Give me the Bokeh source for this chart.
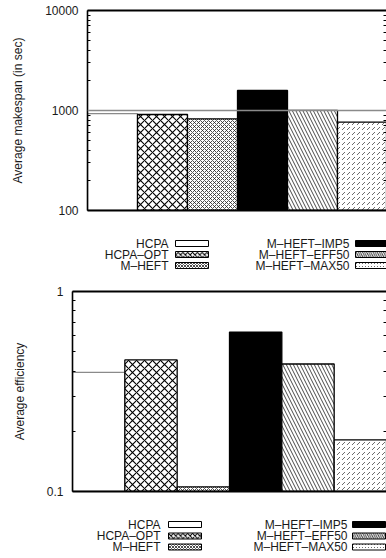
from bokeh.plotting import figure
from bokeh.models import (Range1d, LogAxis, LinearAxis, Span, ColumnDataSource,
                          PrintfTickFormatter, FixedTicker, CustomJSTickFormatter)
from bokeh.core.properties import value
from bokeh.embed import file_html
from bokeh.resources import INLINE
import math

# ---------------- data ----------------
algorithms = ["HCPA", "HCPA–OPT", "M–HEFT", "M–HEFT–IMP5", "M–HEFT–EFF50", "M–HEFT–MAX50"]
makespan = [930, 912, 826, 1585, 1005, 764]
efficiency = [0.394, 0.455, 0.1055, 0.627, 0.434, 0.181]
makespan_reference = 1000
makespan_ticks = [100, 1000, 10000]
efficiency_ticks = [0.1, 1]

# ---------------- styles ----------------
fills = ["white", "white", "white", "black", "white", "white"]
hatches = [" ", "diagonal_cross", "diagonal_cross", " ", "left_diagonal_line", "right_diagonal_dash"]
hatch_scales = [8, 8, 4, 8, 7, 5]
hatch_weights = [1, 1.1, 0.8, 1, 0.9, 0.8]
hatch_colors = ["black", "black", "#222222", "black", "#333333", "#444444"]
outline = ["#8a8a8a", "black", "black", "black", "black", "black"]

FONT = "Liberation Sans"
TXT = "#1a1a1a"
W = 386


def log_ticker(major):
    lo = int(round(math.log10(major[0])))
    hi = int(round(math.log10(major[-1])))
    minor = [m * 10.0 ** k for k in range(lo, hi) for m in range(2, 10)]
    return FixedTicker(ticks=major, minor_ticks=minor)


def make_panel(values, ticks, ylabel, left_px, x_end, top_border, frame_h,
               bottom_border, reference=None):
    p = figure(frame_width=W - left_px, frame_height=frame_h,
               x_range=Range1d(0, x_end), y_range=Range1d(ticks[0], ticks[-1]),
               y_axis_type="log", output_backend="svg", toolbar_location=None,
               min_border_left=left_px, min_border_right=0,
               min_border_top=top_border, min_border_bottom=bottom_border)
    p.outline_line_color = None
    p.grid.visible = False
    p.background_fill_color = "white"
    p.border_fill_color = "white"

    src = ColumnDataSource(dict(x=[i + 0.5 for i in range(len(values))], top=values,
                                bottom=[ticks[0]] * len(values), fill=fills, hatch=hatches,
                                hs=hatch_scales, hw=hatch_weights, hc=hatch_colors, lc=outline))
    p.vbar(x="x", top="top", bottom="bottom", width=1, source=src,
           fill_color="fill", hatch_pattern="hatch", hatch_scale="hs", hatch_weight="hw",
           hatch_color="hc", line_color="lc", line_width=1.3)

    if reference is not None:
        p.add_layout(Span(location=reference, dimension="width", line_color="#8a8a8a",
                          line_width=1.6))

    ya = p.yaxis[0]
    ya.ticker = log_ticker(ticks)
    ya.formatter = PrintfTickFormatter(format="%g")
    ya.axis_label = ylabel
    ya.axis_label_text_font = FONT
    ya.axis_label_text_font_style = "normal"
    ya.axis_label_text_font_size = "12px"
    ya.axis_label_text_color = TXT
    ya.axis_label_standoff = 17
    ya.major_label_text_font = FONT
    ya.major_label_text_font_size = "12px"
    ya.major_label_text_color = TXT
    ya.major_label_standoff = 9
    ya.major_tick_out = 0
    ya.major_tick_in = 6
    ya.minor_tick_out = 0
    ya.minor_tick_in = 3
    ya.axis_line_width = 1.6

    xa = p.xaxis[0]
    xa.ticker = FixedTicker(ticks=[])
    xa.major_label_standoff = 0
    xa.major_tick_in = 0
    xa.major_tick_out = 0
    xa.minor_tick_in = 0
    xa.minor_tick_out = 0
    xa.axis_line_width = 1.8

    ta = LinearAxis(ticker=FixedTicker(ticks=[]), major_label_standoff=0,
                    major_tick_in=0, major_tick_out=0, minor_tick_in=0, minor_tick_out=0,
                    axis_line_width=1.8)
    p.add_layout(ta, "above")

    ra = LogAxis(ticker=log_ticker(ticks), formatter=CustomJSTickFormatter(code="return ''"),
                 major_label_standoff=0,
                 major_tick_in=6, major_tick_out=0, minor_tick_in=3, minor_tick_out=0,
                 axis_line_color=None)
    p.add_layout(ra, "right")
    return p


def make_legend(height, text_right, swatch_left, rows):
    # gnuplot-style key: right-aligned label followed by a pattern swatch
    lg = figure(width=W, height=height, x_range=Range1d(0, W), y_range=Range1d(height, 0),
                x_axis_location=None, y_axis_location=None, output_backend="svg",
                toolbar_location=None, min_border=0)
    lg.outline_line_color = None
    lg.grid.visible = False
    tx, ty, sl, sr, st, sb = [], [], [], [], [], []
    for i in range(len(algorithms)):
        col, row = divmod(i, 3)
        tx.append(text_right[col])
        ty.append(rows[row])
        sl.append(swatch_left[col])
        sr.append(swatch_left[col] + 33)
        st.append(rows[row] - 3)
        sb.append(rows[row] + 3)
    lg.text(x=tx, y=ty, text=algorithms, text_align="right", text_baseline="middle",
            text_font=value(FONT), text_font_size="12px", text_color=TXT)
    lg.quad(left=sl, right=sr, top=st, bottom=sb, fill_color=fills,
            hatch_pattern=hatches, hatch_scale=[max(s * 0.6, 3) for s in hatch_scales],
            hatch_weight=hatch_weights, hatch_color=hatch_colors,
            line_color="black", line_width=1)
    return lg


p1 = make_panel(makespan, makespan_ticks, "Average makespan (in sec)",
                left_px=87, x_end=5.98, top_border=10, frame_h=200, bottom_border=18,
                reference=makespan_reference)
l1 = make_legend(52, [168, 349], [175, 355], [15, 26, 37])
p2 = make_panel(efficiency, efficiency_ticks, "Average efficiency",
                left_px=72, x_end=6, top_border=11, frame_h=200, bottom_border=18)
l2 = make_legend(49, [160, 347], [168, 352], [15, 26.5, 37.5])

open("out.html", "w").write(file_html([p1, l1, p2, l2], INLINE))
